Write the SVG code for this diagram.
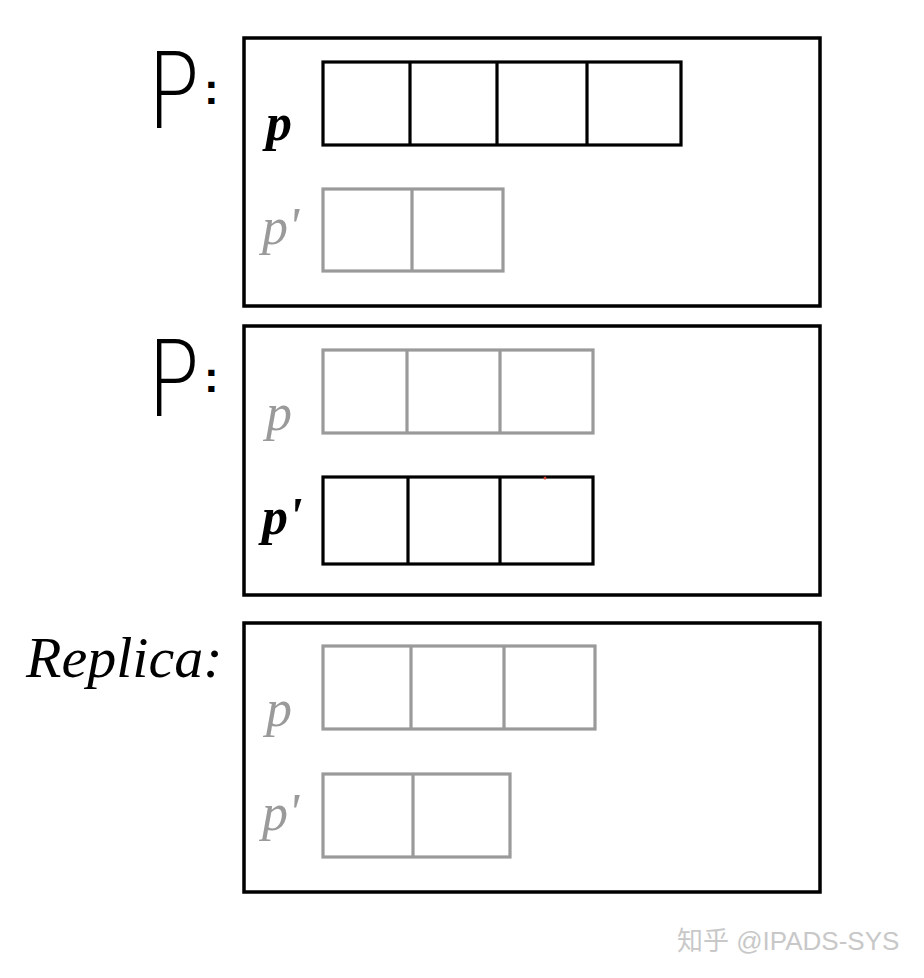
<svg xmlns="http://www.w3.org/2000/svg" width="924" height="978" viewBox="0 0 924 978">
<style>
.frame{fill:none;stroke:#000;stroke-width:3.5}
.blk{fill:none;stroke:#000;stroke-width:3.2}
.gry{fill:none;stroke:#9a9a9a;stroke-width:3.2}
.big{font-family:"DejaVu Sans",sans-serif;font-size:106px;font-weight:200;fill:#000}
.col{font-family:"Liberation Sans",sans-serif;font-size:44px;font-weight:bold;fill:#000}
.lbl{font-family:"Liberation Serif",serif;font-style:italic;font-size:52px}
.lb{fill:#000;font-weight:bold}
.lg{fill:#9a9a9a}
.rep{font-family:"Liberation Serif",serif;font-style:italic;font-size:58px;fill:#000}
.wm{font-family:"Liberation Sans","Noto Sans CJK SC",sans-serif;font-size:26px;fill:#c8c8c8}
</style>
<rect width="924" height="978" fill="#fff"/>
<g id="panel1">
<text class="big" x="146" y="128" transform="translate(146 0) scale(0.85 1) translate(-146 0)">P</text><text class="col" x="204" y="104">:</text>
<rect class="frame" x="244" y="38" width="576" height="268"/>
<text class="lbl lb" x="266" y="140">p</text>
<rect class="blk" x="323" y="62" width="358" height="83"/>
<path class="blk" d="M410 62V145M497 62V145M587 62V145"/>
<text class="lbl lg" x="262" y="244">p'</text>
<rect class="gry" x="323" y="189" width="180" height="82"/>
<path class="gry" d="M412 189V271"/>
</g>
<g id="panel2">
<text class="big" x="146" y="416" transform="translate(146 0) scale(0.85 1) translate(-146 0)">P</text><text class="col" x="204" y="392">:</text>
<rect class="frame" x="244" y="326" width="576" height="269"/>
<text class="lbl lg" x="266" y="430">p</text>
<rect class="gry" x="323" y="350" width="270" height="83"/>
<path class="gry" d="M407 350V433M500 350V433"/>
<text class="lbl lb" x="262" y="534">p'</text>
<rect class="blk" x="323" y="477" width="270" height="87"/>
<path class="blk" d="M408 477V564M500 477V564"/>
<circle cx="545" cy="478" r="1.5" fill="#d04030"/>
</g>
<g id="replica">
<text class="rep" x="26" y="677">Replica:</text>
<rect class="frame" x="244" y="623" width="576" height="269"/>
<text class="lbl lg" x="266" y="726">p</text>
<rect class="gry" x="323" y="646" width="272" height="83"/>
<path class="gry" d="M411 646V729M504 646V729"/>
<text class="lbl lg" x="262" y="830">p'</text>
<rect class="gry" x="323" y="774" width="187" height="83"/>
<path class="gry" d="M413 774V857"/>
</g>
<g id="connectors"></g>
<text class="wm" x="677" y="950">知乎 @IPADS-SYS</text>
</svg>
